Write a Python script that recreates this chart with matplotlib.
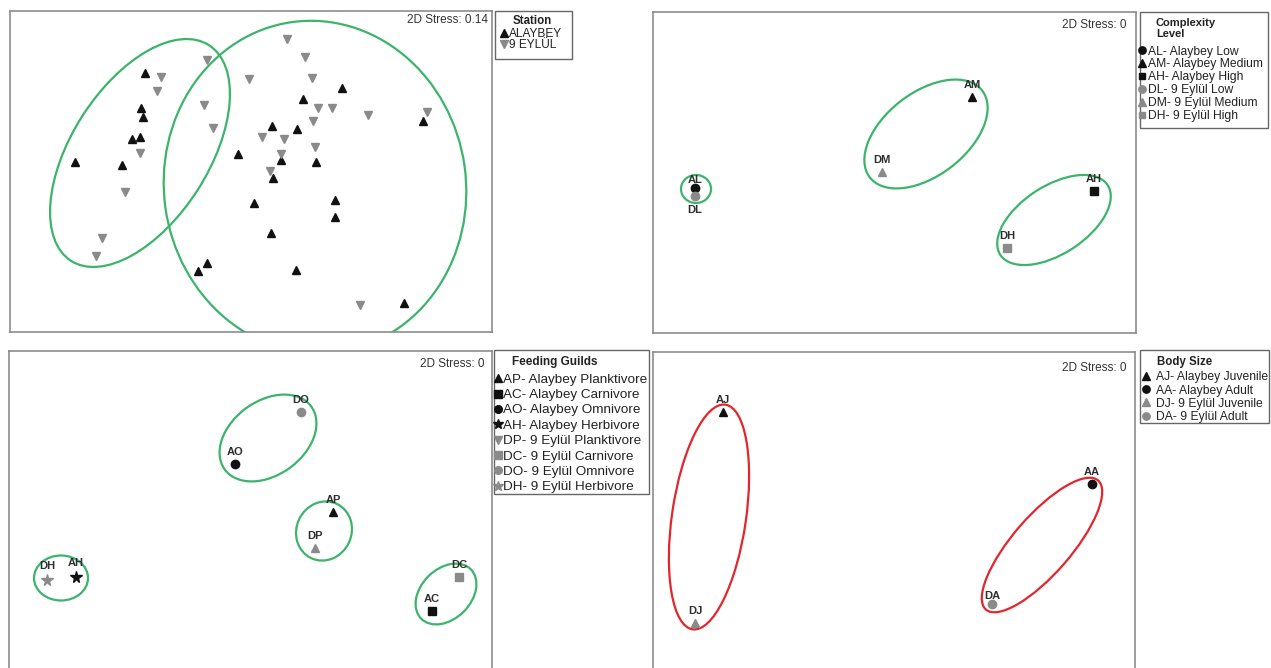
import matplotlib
matplotlib.use('Agg')
import matplotlib.pyplot as plt
from matplotlib.patches import Ellipse, Rectangle
from matplotlib.lines import Line2D

plt.rcParams['font.family'] = ['Liberation Sans', 'DejaVu Sans']

# ---------------- data (NMDS coordinates) ----------------
# panel a: all samples by station
alaybey_x = [1.35, 1.31, 1.33, 1.22, 1.30, 0.65, 1.12, 3.32, 2.93, 2.62, 2.87, 2.28,
             2.71, 3.06, 2.63, 2.44, 3.25, 3.25, 2.61, 1.97, 1.88, 2.86, 3.94, 4.13]
alaybey_y = [2.59, 2.24, 2.15, 1.93, 1.95, 1.70, 1.67, 2.44, 2.33, 2.06, 2.03, 1.78,
             1.72, 1.70, 1.54, 1.29, 1.32, 1.15, 0.99, 0.69, 0.61, 0.62, 0.29, 2.11]
eylul_x = [1.51, 1.47, 1.30, 1.15, 0.92, 0.86, 1.97, 1.94, 2.03, 2.77, 2.95, 2.39,
           3.02, 3.08, 3.22, 3.03, 3.58, 4.17, 2.52, 2.74, 3.05, 2.71, 2.60, 3.50]
eylul_y = [2.55, 2.41, 1.79, 1.40, 0.94, 0.76, 2.72, 2.27, 2.04, 2.93, 2.75, 2.53,
           2.54, 2.24, 2.24, 2.11, 2.17, 2.20, 1.95, 1.93, 1.85, 1.78, 1.61, 0.27]
station_names = ['ALAYBEY', '9 EYLÜL']
station_ell_x = [1.30, 3.05]
station_ell_y = [1.79, 1.45]
station_ell_w = [2.56, 3.02]
station_ell_h = [1.37, 3.33]
station_ell_ang = [57.4, 8]

# panel b: complexity level
cx_codes = ['AL', 'AM', 'AH', 'DL', 'DM', 'DH']
cx_names = ['AL- Alaybey Low', 'AM- Alaybey Medium', 'AH- Alaybey High',
            'DL- 9 Eylül Low', 'DM- 9 Eylül Medium', 'DH- 9 Eylül High']
cx_x = [0.42, 3.19, 4.41, 0.42, 2.29, 3.54]
cx_y = [1.45, 2.36, 1.42, 1.37, 1.61, 0.85]
cx_ell_x = [0.43, 2.73, 4.01]
cx_ell_y = [1.44, 1.99, 1.13]
cx_ell_w = [0.30, 1.42, 1.28]
cx_ell_h = [0.28, 0.83, 0.68]
cx_ell_ang = [0, 37.7, 33]

# panel c: feeding guilds
fg_codes = ['AP', 'AC', 'AO', 'AH', 'DP', 'DC', 'DO', 'DH']
fg_names = ['AP- Alaybey Planktivore', 'AC- Alaybey Carnivore', 'AO- Alaybey Omnivore',
            'AH- Alaybey Herbivore', 'DP- 9 Eylül Planktivore', 'DC- 9 Eylül Carnivore',
            'DO- 9 Eylül Omnivore', 'DH- 9 Eylül Herbivore']
fg_x = [3.24, 4.23, 2.26, 0.67, 3.06, 4.50, 2.92, 0.38]
fg_y = [1.60, 0.61, 2.08, 0.95, 1.24, 0.95, 2.60, 0.92]
fg_ell_x = [2.59, 3.15, 0.52, 4.37]
fg_ell_y = [2.34, 1.41, 0.94, 0.78]
fg_ell_w = [1.07, 0.55, 0.54, 0.70]
fg_ell_h = [0.74, 0.60, 0.45, 0.50]
fg_ell_ang = [36, -25, 0, 45]

# panel d: body size
bs_codes = ['AJ', 'AA', 'DJ', 'DA']
bs_names = ['AJ- Alaybey Juvenile', 'AA- Alaybey Adult', 'DJ- 9 Eylül Juvenile', 'DA- 9 Eylül Adult']
bs_x = [0.70, 4.39, 0.42, 3.39]
bs_y = [2.61, 1.89, 0.50, 0.69]
bs_ell_x = [0.56, 3.89]
bs_ell_y = [1.56, 1.28]
bs_ell_w = [0.74, 1.71]
bs_ell_h = [2.27, 0.58]
bs_ell_ang = [-8.3, 49]

stress = ['0.14', '0', '0', '0']

# ---------------- styling ----------------
BLACK = '#111111'
GREY = '#8a8a8a'
GREEN = '#3cb46b'
RED = '#e3262b'
FRAME = '#8c8c8c'
LABEL = '#2e2e2e'

W, H = 1271, 668
fig = plt.figure(figsize=(W / 100, H / 100), dpi=100)


def panel(l, t, r, b):
    ax = fig.add_axes([l / W, 1 - b / H, (r - l) / W, (b - t) / H])
    ax.set_xlim(0, (r - l) / 100)
    ax.set_ylim(0, (b - t) / 100)
    ax.set_xticks([])
    ax.set_yticks([])
    for s in ax.spines.values():
        s.set_color(FRAME)
        s.set_linewidth(1.2)
    return ax


def add_ellipses(ax, xs, ys, ws, hs, angs, color):
    for x, y, w, h, a in zip(xs, ys, ws, hs, angs):
        ax.add_patch(Ellipse((x, y), w, h, angle=a, fill=False, ec=color, lw=1.6))


def add_stress(ax, s, dx, dy):
    ax.annotate('2D Stress: ' + s, xy=(1, 1), xycoords='axes fraction', xytext=(dx, dy),
                textcoords='offset pixels', ha='right', va='top', fontsize=8.5, color='#333333')


# legend box drawn by hand (PRIMER style), everything in figure pixels from top-left
def legend_box(box, title_lines, title_x, title_y, title_dy, row_y, row_dy,
               mark_x, text_x, fs, tfs, handles, names):
    fx = lambda px: px / W
    fy = lambda py: 1 - py / H
    fig.add_artist(Rectangle((fx(box[0]), fy(box[3])), (box[2] - box[0]) / W,
                             (box[3] - box[1]) / H, transform=fig.transFigure,
                             fill=False, ec='#666666', lw=1.0))
    for i, t in enumerate(title_lines):
        fig.text(fx(title_x), fy(title_y + i * title_dy), t, fontsize=tfs, fontweight='bold',
                 ha='left', va='center_baseline', color='#222222')
    for i, ((m, c, ms), name) in enumerate(zip(handles, names)):
        y = row_y + i * row_dy
        fig.add_artist(Line2D([fx(mark_x)], [fy(y)], transform=fig.transFigure,
                              ls='', marker=m, ms=ms, color=c))
        fig.text(fx(text_x), fy(y), name, fontsize=fs, ha='left', va='center_baseline',
                 color='#222222')


def col(code):
    return BLACK if code[0] == 'A' else GREY


def point_labels(ax, codes, xs, ys, special):
    for c, x, y in zip(codes, xs, ys):
        off = special.get(c, 13)
        ax.annotate(c, (x, y), xytext=(0, off), textcoords='offset pixels', ha='center',
                    va='center_baseline', fontsize=8, fontweight='bold', color=LABEL)


# panel a
ax1 = panel(10, 11, 492, 332)
ax1.plot(alaybey_x, alaybey_y, ls='', marker='^', ms=6, color=BLACK)
ax1.plot(eylul_x, eylul_y, ls='', marker='v', ms=6, color=GREY)
add_ellipses(ax1, station_ell_x, station_ell_y, station_ell_w, station_ell_h, station_ell_ang, GREEN)
add_stress(ax1, stress[0], -4, -3)
legend_box((495, 11, 572.3, 59.3), ['Station'], 512.5, 20, 0, 32.7, 11.3, 503.7, 509.3,
           8.6, 8.3, [('^', BLACK, 5.3), ('v', GREY, 5.3)], station_names)

# panel b
cx_mark = {'L': 'o', 'M': '^', 'H': 's'}
cx_ms = {'L': 6, 'M': 6, 'H': 5.5}
ax2 = panel(653, 12, 1136, 333)
add_ellipses(ax2, cx_ell_x, cx_ell_y, cx_ell_w, cx_ell_h, cx_ell_ang, GREEN)
for c, x, y in zip(cx_codes, cx_x, cx_y):
    ax2.plot(x, y, ls='', marker=cx_mark[c[1]], ms=cx_ms[c[1]], color=col(c))
point_labels(ax2, cx_codes, cx_x, cx_y, {'AL': 9, 'DL': -13})
add_stress(ax2, stress[1], -9, -7)
legend_box((1140, 11.7, 1268, 128), ['Complexity', 'Level'], 1156, 21.7, 11.6, 50, 12.9,
           1142, 1147.5, 8.7, 8.0,
           [(cx_mark[c[1]], col(c), 5 if c[1] == 'H' else 5.3) for c in cx_codes], cx_names)

# panel c
fg_mark = {'AP': '^', 'DP': '^', 'AC': 's', 'DC': 's', 'AO': 'o', 'DO': 'o', 'AH': '*', 'DH': '*'}
fg_leg_mark = dict(fg_mark, DP='v')
ax3 = panel(9, 351, 492, 672)
add_ellipses(ax3, fg_ell_x, fg_ell_y, fg_ell_w, fg_ell_h, fg_ell_ang, GREEN)
for c, x, y in zip(fg_codes, fg_x, fg_y):
    m = fg_mark[c]
    ax3.plot(x, y, ls='', marker=m, ms=8.5 if m == '*' else 6, color=col(c))
point_labels(ax3, fg_codes, fg_x, fg_y, {'DH': 15, 'AH': 15})
add_stress(ax3, stress[2], -7, -7)
legend_box((494, 350, 649, 494.3), ['Feeding Guilds'], 512, 361, 0, 378.3, 15.35, 498, 503,
           9.7, 8.5,
           [(fg_leg_mark[c], col(c), 7.5 if fg_mark[c] == '*' else 5.5) for c in fg_codes], fg_names)

# panel d
bs_mark = {'J': '^', 'A': 'o'}
ax4 = panel(653, 352, 1135, 673)
add_ellipses(ax4, bs_ell_x, bs_ell_y, bs_ell_w, bs_ell_h, bs_ell_ang, RED)
for c, x, y in zip(bs_codes, bs_x, bs_y):
    ax4.plot(x, y, ls='', marker=bs_mark[c[1]], ms=6, color=col(c))
point_labels(ax4, bs_codes, bs_x, bs_y, {'DA': 9})
add_stress(ax4, stress[3], -8, -10)
legend_box((1140, 350, 1269, 423.3), ['Body Size'], 1156.7, 360, 0, 375.7, 13.33, 1145.5, 1156,
           8.7, 8.3, [(bs_mark[c[1]], col(c), 5.3) for c in bs_codes], bs_names)

fig.savefig('out.png', dpi=100)
